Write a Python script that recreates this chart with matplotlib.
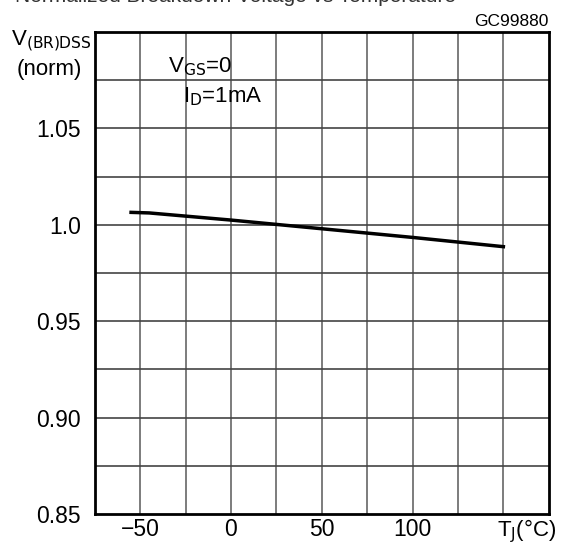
import matplotlib.pyplot as plt

plt.rcParams['font.family'] = ['Liberation Sans', 'DejaVu Sans']

# curve: normalized breakdown voltage vs junction temperature
temp = [-55, -45, 0, 50, 100, 150]
v_norm = [1.0065, 1.0062, 1.0025, 0.998, 0.9935, 0.9887]

x_ticks = [-50, 0, 50, 100]
x_labels = ['\u221250', '0', '50', '100']
y_ticks = [0.85, 0.90, 0.95, 1.0, 1.05]
y_labels = ['0.85', '0.90', '0.95', '1.0', '1.05']

fig = plt.figure(figsize=(5.64, 5.44), dpi=100)
ax = fig.add_axes([0.168, 0.055, 0.805, 0.886])

ax.set_xlim(-75, 175)
ax.set_ylim(0.85, 1.10)

# grid every 25 degC and every 0.025
for gx in range(-50, 175, 25):
    ax.axvline(gx, color='#666666', lw=1.2, zorder=1)
for i in range(1, 10):
    ax.axhline(0.85 + i * 0.025, color='#444444', lw=1.2, zorder=1)

ax.plot(temp, v_norm, color='black', lw=2.5, zorder=3)

ax.set_xticks(x_ticks)
ax.set_xticklabels(x_labels, fontsize=16.5)
ax.set_yticks(y_ticks)
ax.set_yticklabels(y_labels, fontsize=16.5)
ax.tick_params(length=0)
ax.tick_params(axis='x', pad=3)
ax.tick_params(axis='y', pad=10)
for s in ax.spines.values():
    s.set_linewidth(2)

# title cut off at the top of the original scan (only its lower edge shows)
fig.text(0.027, 1 - 2 / 544, 'Normalized Breakdown Voltage vs Temperature',
         fontsize=15, ha='left', va='baseline', color='#333333')

fig.text(0.882, 1 - 531 / 544, 'T$_{\\mathrm{J}}$(\u00b0C)', fontsize=16,
         ha='left', va='center')
fig.text(0.02, 0.925, 'V$_{\\mathrm{(BR)DSS}}$', fontsize=16, ha='left', va='center')
fig.text(0.03, 0.873, '(norm)', fontsize=16, ha='left', va='center')
fig.text(0.297, 0.878, 'V$_{\\mathrm{GS}}$=0', fontsize=16, ha='left', va='center')
fig.text(0.325, 0.823, 'I$_{\\mathrm{D}}$=1mA', fontsize=16, ha='left', va='center')
fig.text(0.973, 0.96, 'GC99880', fontsize=12.5, ha='right', va='center')

fig.savefig('out.png', dpi=100)
